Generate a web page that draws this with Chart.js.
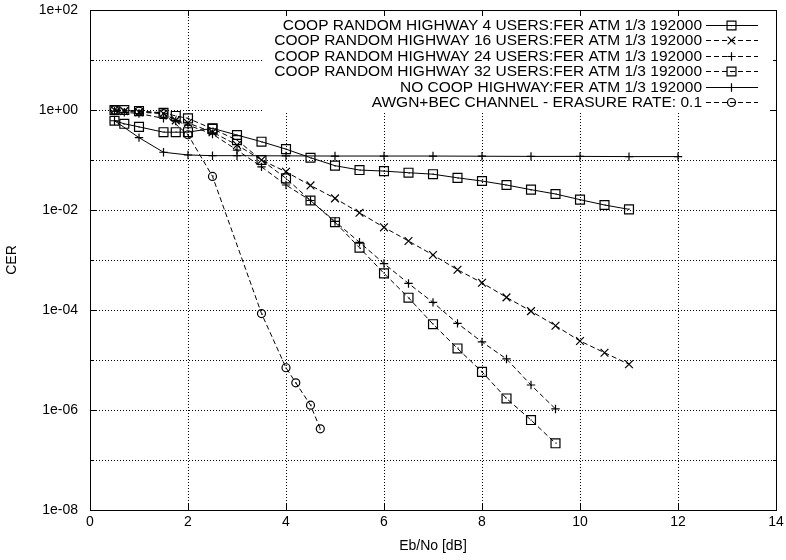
<!DOCTYPE html>
<html>
<head>
<meta charset="utf-8">
<script src="https://cdn.jsdelivr.net/npm/chart.js@4.4.1/dist/chart.umd.min.js"></script>
<style>
html,body{margin:0;padding:0;background:#fff;}
#wrap{width:786px;height:560px;position:relative;}
</style>
</head>
<body>
<div id="wrap"><canvas id="c" width="786" height="560"></canvas></div>
<script>
// ---- data ----
const seriesLabels = [
  "COOP RANDOM HIGHWAY 4 USERS:FER ATM 1/3 192000",
  "COOP RANDOM HIGHWAY 16 USERS:FER ATM 1/3 192000",
  "COOP RANDOM HIGHWAY 24 USERS:FER ATM 1/3 192000",
  "COOP RANDOM HIGHWAY 32 USERS:FER ATM 1/3 192000",
  "NO COOP HIGHWAY:FER ATM 1/3 192000",
  "AWGN+BEC CHANNEL - ERASURE RATE: 0.1"
];
const x4 = [0.5,0.7,1,1.5,1.75,2,2.5,3,3.5,4,4.5,5,5.5,6,6.5,7,7.5,8,8.5,9,9.5,10,10.5,11];
const y4 = [0.61,0.53,0.46,0.36,0.36,0.36,0.43,0.316,0.232,0.165,0.111,0.077,0.063,0.060,0.0557,0.052,0.044,0.038,0.0316,0.0255,0.0209,0.0161,0.0126,0.0103];
const x16 = [0.5,0.7,1,1.5,1.75,2,2.5,3,3.5,4,4.5,5,5.5,6,6.5,7,7.5,8,8.5,9,9.5,10,10.5,11];
const y16 = [1.0,0.95,0.9,0.85,0.62,0.55,0.36,0.2,0.1,0.058,0.031,0.0171,0.0088,0.0045,0.0024,0.00126,0.00064,0.00035,0.000179,0.000095,0.0000485,0.000024,0.000014,0.0000082];
const x24 = [0.5,0.7,1,1.5,1.75,2,2.5,3,3.5,4,4.5,5,5.5,6,6.5,7,7.5,8,8.5,9,9.5];
const y24 = [0.95,0.9,0.85,0.68,0.6,0.5,0.33,0.158,0.073,0.0316,0.0155,0.0059,0.00226,0.00085,0.00034,0.000142,0.000054,0.000023,0.0000105,0.00000316,0.00000105];
const x32 = [0.5,0.7,1,1.5,1.75,2,2.5,3,3.5,4,4.5,5,5.5,6,6.5,7,7.5,8,8.5,9,9.5];
const y32 = [1.0,1.0,0.95,0.88,0.76,0.68,0.42,0.25,0.1,0.043,0.0155,0.0057,0.00176,0.00054,0.000176,0.000052,0.000017,0.0000058,0.0000017,0.00000063,0.000000216];
const xNo = [0.5,1,1.5,2,2.5,3,4,5,6,7,8,9,10,11,12];
const yNo = [0.61,0.28,0.143,0.126,0.122,0.122,0.121,0.12,0.12,0.12,0.119,0.118,0.118,0.117,0.117];
const xAw = [0.5,1,1.5,2,2.5,3.5,4,4.2,4.5,4.7];
const yAw = [1.0,0.95,0.85,0.32,0.047,0.000085,0.000007,0.0000035,0.00000125,0.00000042];
const xTicks = [0,2,4,6,8,10,12,14];
const yExponents = [-8,-7,-6,-5,-4,-3,-2,-1,0,1,2];

function pts(xs, ys){ return xs.map((v,i)=>({x:v,y:ys[i]})); }

const FONT = "'Liberation Sans', Arial, sans-serif";
const DASH = [5,3];

const styles = [
  {pointStyle:'rect', r:6.3, dash:[], dot:true},
  {pointStyle:'crossRot', r:5.5, dash:DASH, dot:false},
  {pointStyle:'cross', r:4.2, dash:DASH, dot:false},
  {pointStyle:'rect', r:6.3, dash:DASH, dot:true},
  {pointStyle:'cross', r:4.2, dash:[], dot:false},
  {pointStyle:'circle', r:4, dash:DASH, dot:true}
];
const dataSets = [pts(x4,y4),pts(x16,y16),pts(x24,y24),pts(x32,y32),pts(xNo,yNo),pts(xAw,yAw)];

const datasets = dataSets.map((d,i)=>({
  label: seriesLabels[i],
  data: d,
  borderColor:'#000',
  backgroundColor:'rgba(0,0,0,0)',
  borderWidth:1,
  borderDash: styles[i].dash,
  pointStyle: styles[i].pointStyle,
  pointRadius: styles[i].r,
  pointBorderWidth:1.2,
  pointBorderColor:'#000',
  pointBackgroundColor:'rgba(0,0,0,0)',
  fill:false,
  tension:0
}));

// key (legend) region: grid is not drawn there
const KEY_LEFT = 263, KEY_BOTTOM = 112;

const gridPlugin = {
  id:'gridDots',
  beforeDatasetsDraw(chart){
    const ctx = chart.ctx, a = chart.chartArea;
    const xs = chart.scales.x, ys = chart.scales.y;
    ctx.save();
    ctx.strokeStyle='#000'; ctx.lineWidth=1; ctx.setLineDash([1,2]);
    ctx.beginPath();
    yExponents.forEach(e=>{
      const py = Math.round(ys.getPixelForValue(Math.pow(10,e)))+0.5;
      if (py <= a.top+1 || py >= a.bottom-1) return;
      const end = py <= KEY_BOTTOM ? KEY_LEFT : a.right;
      ctx.moveTo(a.left, py); ctx.lineTo(end, py);
    });
    xTicks.forEach(v=>{
      const px = Math.round(xs.getPixelForValue(v))+0.5;
      if (px <= a.left+1 || px >= a.right-1) return;
      const start = px >= KEY_LEFT ? KEY_BOTTOM : a.top;
      ctx.moveTo(px, a.bottom); ctx.lineTo(px, start);
    });
    ctx.stroke();
    ctx.restore();
  }
};

const framePlugin = {
  id:'frame',
  afterDatasetsDraw(chart){
    const ctx = chart.ctx, a = chart.chartArea;
    const xs = chart.scales.x, ys = chart.scales.y;
    ctx.save();
    // center dots
    chart.data.datasets.forEach((ds,i)=>{
      if(!styles[i].dot) return;
      const meta = chart.getDatasetMeta(i);
      ctx.fillStyle='#000';
      meta.data.forEach(p=>{ ctx.fillRect(Math.round(p.x)-0.5, Math.round(p.y)-0.5, 1.2, 1.2); });
    });
    // border
    ctx.strokeStyle='#000'; ctx.lineWidth=1; ctx.setLineDash([]);
    ctx.strokeRect(Math.round(a.left)+0.5, Math.round(a.top)+0.5, Math.round(a.right-a.left), Math.round(a.bottom-a.top));
    // inward ticks
    ctx.beginPath();
    xTicks.forEach(v=>{
      const px = Math.round(xs.getPixelForValue(v))+0.5;
      ctx.moveTo(px,a.bottom); ctx.lineTo(px,a.bottom-6);
      ctx.moveTo(px,a.top); ctx.lineTo(px,a.top+6);
    });
    yExponents.forEach(e=>{
      const py = Math.round(ys.getPixelForValue(Math.pow(10,e)))+0.5;
      const len = (e%2===0)?6:3;
      ctx.moveTo(a.left,py); ctx.lineTo(a.left+len,py);
      ctx.moveTo(a.right,py); ctx.lineTo(a.right-len,py);
    });
    ctx.stroke();
    // legend (text then sample)
    ctx.font = "15.5px " + FONT;
    ctx.textAlign='right'; ctx.textBaseline='middle';
    chart.data.datasets.forEach((ds,i)=>{
      const y = 24.5 + i*15.5;
      const yy = Math.round(y)+0.5;
      ctx.fillStyle='#000';
      ctx.fillText(ds.label, 702, y+1);
      ctx.beginPath();
      ctx.setLineDash(styles[i].dash);
      ctx.lineWidth=1;
      ctx.moveTo(706, yy); ctx.lineTo(758, yy);
      ctx.stroke();
      ctx.setLineDash([]);
      ctx.lineWidth=1.2;
      ctx.fillStyle='rgba(255,255,255,0)';
      ctx.strokeStyle='#000';
      if (Chart.helpers && Chart.helpers.drawPoint) {
        Chart.helpers.drawPoint(ctx, {pointStyle: styles[i].pointStyle, radius: styles[i].r, rotation:0, borderWidth:1.2}, 731.5, yy);
      }
      ctx.fillStyle='#000';
      if(styles[i].dot){ ctx.fillRect(731, Math.round(y), 1.2, 1.2); }
    });
    ctx.restore();
  }
};

new Chart(document.getElementById('c'), {
  type:'line',
  data:{datasets},
  options:{
    responsive:false,
    animation:false,
    devicePixelRatio:1,
    layout:{padding:{left:0,right:10,top:10,bottom:0}},
    plugins:{legend:{display:false}, tooltip:{enabled:false}},
    scales:{
      x:{
        type:'linear', min:0, max:14,
        afterBuildTicks(s){ s.ticks = xTicks.map(v=>({value:v})); },
        afterFit(s){ s.height = 50; s.paddingLeft = 0; s.paddingRight = 0; },
        ticks:{color:'#000', font:{family:FONT,size:14}, padding:4, maxRotation:0},
        grid:{display:false, drawTicks:false},
        border:{display:false},
        title:{display:true, text:'Eb/No [dB]', color:'#000', font:{family:FONT,size:14}, padding:{top:2,bottom:5}}
      },
      y:{
        type:'logarithmic', min:1e-8, max:1e2,
        afterBuildTicks(s){ s.ticks = yExponents.map(e=>({value:Math.pow(10,e)})); },
        afterFit(s){ s.width = 90; s.paddingTop = 0; s.paddingBottom = 0; },
        ticks:{color:'#000', font:{family:FONT,size:14}, padding:12, autoSkip:false,
          callback(v){
            const e = Math.round(Math.log10(v));
            if (e%2!==0) return '';
            const s = (e<0?'-':'+') + String(Math.abs(e)).padStart(2,'0');
            return '1e' + s;
          }},
        grid:{display:false, drawTicks:false},
        border:{display:false},
        title:{display:true, text:'CER', color:'#000', font:{family:FONT,size:14}, padding:{top:4,bottom:4}}
      }
    }
  },
  plugins:[gridPlugin, framePlugin]
});
</script>
</body>
</html>
